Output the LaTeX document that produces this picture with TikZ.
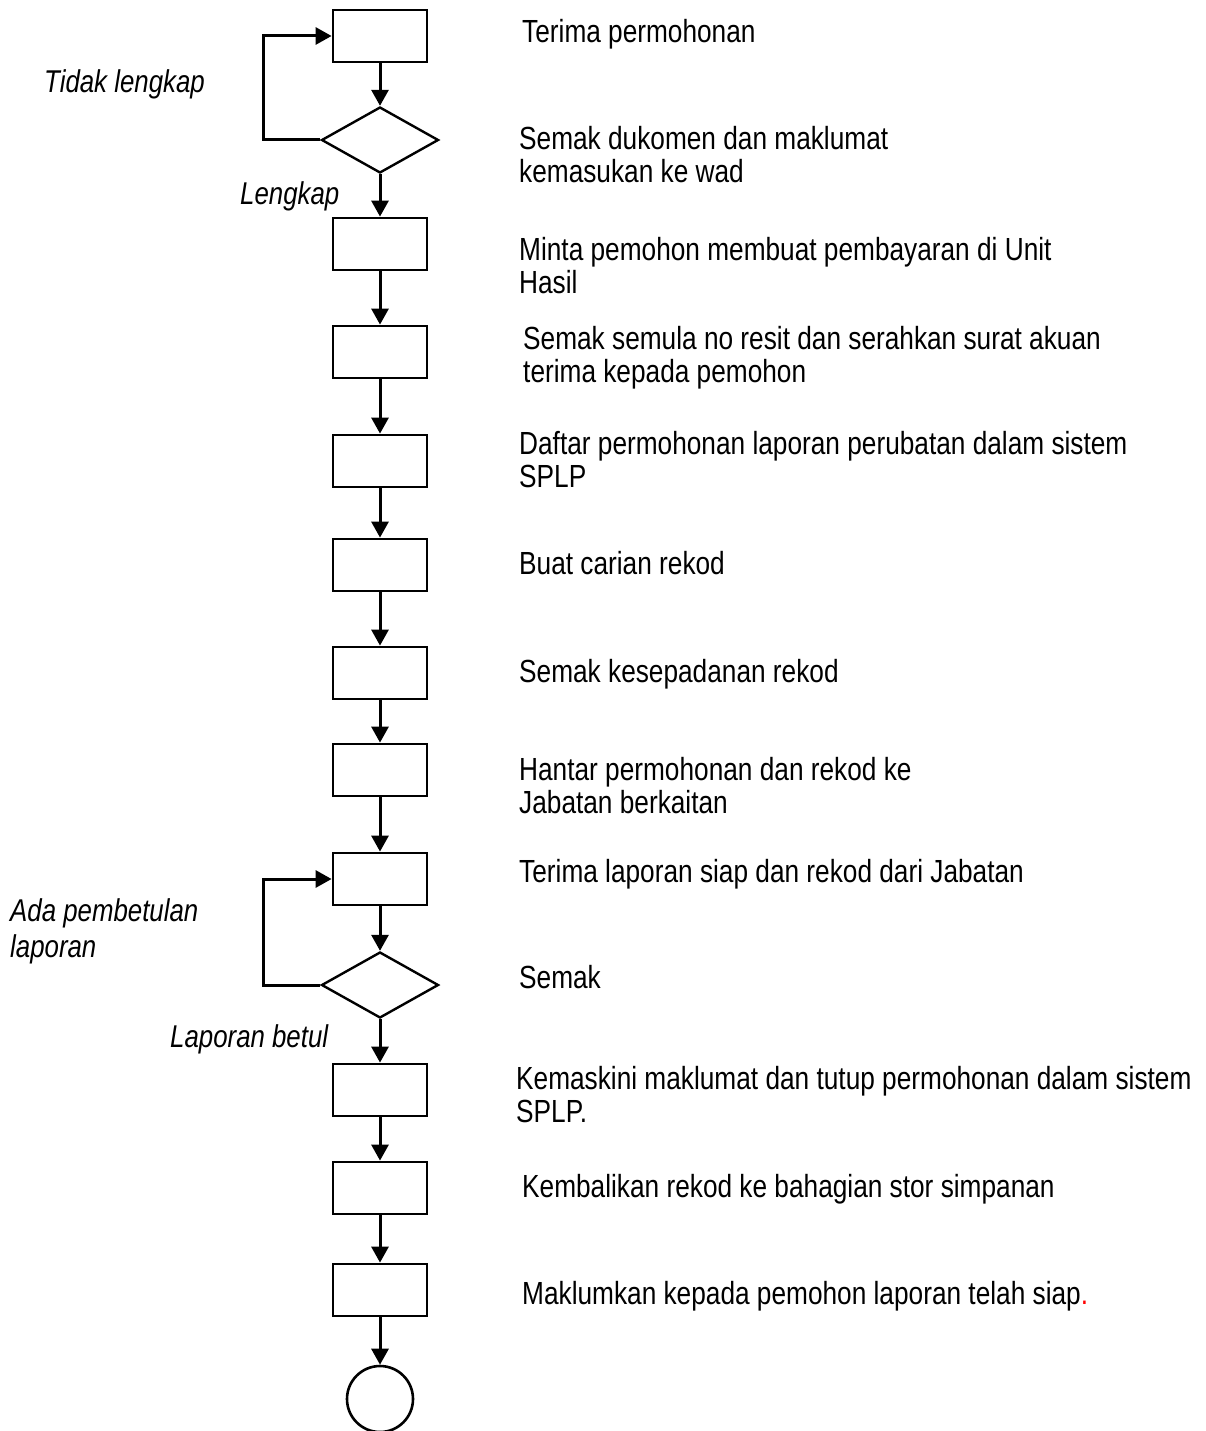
\documentclass[tikz,border=0pt]{standalone}
\usepackage{fontspec}
\setmainfont[FakeStretch=0.82]{Liberation Sans}
\usetikzlibrary{arrows.meta,shapes.geometric}
\tikzset{
  box/.style={draw, line width=2.8pt, minimum width=94pt, minimum height=52pt, inner sep=0pt},
  dec/.style={draw, diamond, line width=2.4pt, minimum width=117pt, minimum height=66pt, aspect=1.77, inner sep=0pt},
  endc/.style={draw, circle, line width=2.6pt, minimum size=66pt, inner sep=0pt},
  arr/.style={line width=3pt, -{Triangle[width=17pt,length=16pt]}},
  txt/.style={anchor=base west, inner sep=0pt, align=left, font=\fontsize{32}{33}\selectfont},
  lbl/.style={anchor=base west, inner sep=0pt, align=left, font=\fontsize{31.5}{36}\selectfont\itshape}
}
\begin{document}
\begin{tikzpicture}[x=1pt,y=-1pt]
\useasboundingbox (0,0) rectangle (1205,1431);
\node[box] (b1) at (380,36) {};
\node[dec] (d1) at (380,140) {};
\node[box] (b2) at (380,244) {};
\node[box] (b3) at (380,352) {};
\node[box] (b4) at (380,461) {};
\node[box] (b5) at (380,565) {};
\node[box] (b6) at (380,673) {};
\node[box] (b7) at (380,770) {};
\node[box] (b8) at (380,879) {};
\node[dec] (d2) at (380,985) {};
\node[box] (b9) at (380,1090) {};
\node[box] (b10) at (380,1188) {};
\node[box] (b11) at (380,1290) {};
\node[endc] (c) at (380,1399) {};
\coordinate (l1) at (263,0);
\coordinate (l2) at (263,0);

\draw[arr] (b1) -- (d1);
\draw[arr] (d1) -- (b2);
\draw[arr] (b2) -- (b3);
\draw[arr] (b3) -- (b4);
\draw[arr] (b4) -- (b5);
\draw[arr] (b5) -- (b6);
\draw[arr] (b6) -- (b7);
\draw[arr] (b7) -- (b8);
\draw[arr] (b8) -- (d2);
\draw[arr] (d2) -- (b9);
\draw[arr] (b9) -- (b10);
\draw[arr] (b10) -- (b11);
\draw[arr] (b11) -- (c);
\draw[arr] (d1.west) -- (d1.west -| l1) |- (b1.west);
\draw[arr] (d2.west) -- (d2.west -| l2) |- (b8.west);

\node[txt] (t1) at (522,43) {Terima permohonan};
\node[txt] (t2) at (519,183) {Semak dukomen dan maklumat\\kemasukan ke wad};
\node[txt] (t3) at (519,293) {Minta pemohon membuat pembayaran di Unit\\Hasil};
\node[txt] (t4) at (523,382) {Semak semula no resit dan serahkan surat akuan\\terima kepada pemohon};
\node[txt] (t5) at (519,487) {Daftar permohonan laporan perubatan dalam sistem\\SPLP};
\node[txt] (t6) at (519,574) {Buat carian rekod};
\node[txt] (t7) at (519,682) {Semak kesepadanan rekod};
\node[txt] (t8) at (519,813) {Hantar permohonan dan rekod ke\\Jabatan berkaitan};
\node[txt] (t9) at (519,882) {Terima laporan siap dan rekod dari Jabatan};
\node[txt] (t10) at (519,988) {Semak};
\node[txt] (t11) at (516,1122) {Kemaskini maklumat dan tutup permohonan dalam sistem\\SPLP.};
\node[txt] (t12) at (522,1197) {Kembalikan rekod ke bahagian stor simpanan};
\node[txt] (t13) at (522,1304) {Maklumkan kepada pemohon laporan telah siap\textcolor{red}{.}};

\node[lbl] (a1) at (44,93) {Tidak lengkap};
\node[lbl] (a2) at (240,205) {Lengkap};
\node[lbl] (a3) at (10,957) {Ada pembetulan\\laporan};
\node[lbl] (a4) at (170,1047) {Laporan betul};
\end{tikzpicture}
\end{document}
